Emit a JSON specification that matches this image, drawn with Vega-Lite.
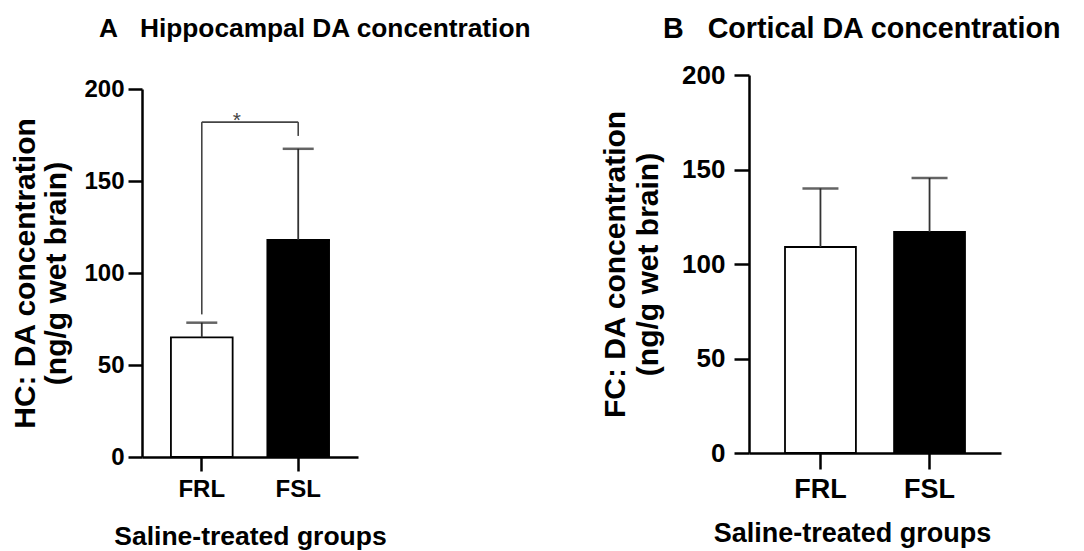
{
  "$schema": "https://vega.github.io/schema/vega-lite/v6.json",
  "background": "white",
  "padding": {"left": 10, "top": 15, "right": 0, "bottom": 0},
  "spacing": 68,
  "datasets": {
    "hc": [
      {"group": "FRL", "mean": 65, "upper": 73},
      {"group": "FSL", "mean": 118, "upper": 167.5}
    ],
    "fc": [
      {"group": "FRL", "mean": 109, "upper": 140},
      {"group": "FSL", "mean": 117, "upper": 145.5}
    ],
    "bracket_v": [
      {"group": "FRL", "y1": 77.5, "y2": 182},
      {"group": "FSL", "y1": 174.5, "y2": 182}
    ],
    "bracket_h": [
      {"from": "FRL", "to": "FSL", "y": 182, "label": "*"}
    ],
    "blank": [{}]
  },
  "config": {
    "view": {"stroke": null},
    "font": "Liberation Sans",
    "axis": {
      "grid": false,
      "domainColor": "black",
      "domainWidth": 2.5,
      "tickColor": "black",
      "tickWidth": 2.5,
      "labelColor": "black",
      "labelFont": "Liberation Sans",
      "labelFontWeight": "bold",
      "titleColor": "black",
      "titleFont": "Liberation Sans",
      "titleFontWeight": "bold"
    },
    "title": {"color": "black", "font": "Liberation Sans", "fontWeight": "bold", "anchor": "start", "frame": "group"}
  },
  "hconcat": [
    {
      "spacing": 1,
      "vconcat": [
        {
          "width": 216,
          "height": 1,
          "title": {"text": "A\u00a0\u00a0\u00a0Hippocampal DA concentration", "fontSize": 26.3, "dx": -43, "offset": 32},
          "data": {"name": "blank"},
          "mark": {"type": "rule", "opacity": 0},
          "encoding": {}
        },
        {
          "width": 216,
          "height": 368,
          "layer": [
            {
              "data": {"name": "hc"},
              "mark": {"type": "bar", "stroke": "black", "strokeWidth": 1.8},
              "encoding": {
                "x": {
                  "field": "group", "type": "nominal", "sort": ["FRL", "FSL"], "title": "Saline-treated groups",
                  "scale": {"domain": ["FRL", "FSL"], "paddingInner": 0.36, "paddingOuter": 0.3},
                  "axis": {"labelAngle": 0, "labelFontSize": 24, "tickSize": 14, "labelPadding": 6, "titleFontSize": 26.5, "titlePadding": 22}
                },
                "y": {
                  "field": "mean", "type": "quantitative", "title": ["HC: DA concentration", "(ng/g wet brain)"],
                  "scale": {"domain": [0, 200], "nice": false},
                  "axis": {"values": [0, 50, 100, 150, 200], "labelFontSize": 24, "tickSize": 14, "labelPadding": 4, "titleFontSize": 30, "titleLineHeight": 31, "titlePadding": 12}
                },
                "fill": {"field": "group", "type": "nominal", "scale": {"domain": ["FRL", "FSL"], "range": ["white", "black"]}, "legend": null}
              }
            },
            {
              "data": {"name": "hc"},
              "mark": {"type": "rule", "color": "#333333", "strokeWidth": 1.8},
              "encoding": {
                "x": {"field": "group", "type": "nominal", "title": "Saline-treated groups"},
                "y": {"field": "mean", "type": "quantitative", "title": ["HC: DA concentration", "(ng/g wet brain)"]},
                "y2": {"field": "upper"}
              }
            },
            {
              "data": {"name": "hc"},
              "mark": {"type": "tick", "orient": "horizontal", "color": "#222222", "size": 31, "thickness": 2.5},
              "encoding": {
                "x": {"field": "group", "type": "nominal", "title": "Saline-treated groups"},
                "y": {"field": "upper", "type": "quantitative", "title": ["HC: DA concentration", "(ng/g wet brain)"]}
              }
            },
            {
              "data": {"name": "bracket_v"},
              "mark": {"type": "rule", "color": "#444444", "strokeWidth": 1.6},
              "encoding": {
                "x": {"field": "group", "type": "nominal", "title": "Saline-treated groups"},
                "y": {"field": "y1", "type": "quantitative", "title": ["HC: DA concentration", "(ng/g wet brain)"]},
                "y2": {"field": "y2"}
              }
            },
            {
              "data": {"name": "bracket_h"},
              "mark": {"type": "rule", "color": "#444444", "strokeWidth": 1.6},
              "encoding": {
                "x": {"field": "from", "type": "nominal", "title": "Saline-treated groups"},
                "x2": {"field": "to"},
                "y": {"field": "y", "type": "quantitative", "title": ["HC: DA concentration", "(ng/g wet brain)"]}
              }
            },
            {
              "data": {"name": "bracket_h"},
              "mark": {"type": "text", "color": "#444444", "fontSize": 21, "dx": 35, "dy": 5, "baseline": "alphabetic"},
              "encoding": {
                "x": {"field": "from", "type": "nominal", "title": "Saline-treated groups"},
                "y": {"field": "y", "type": "quantitative", "title": ["HC: DA concentration", "(ng/g wet brain)"]},
                "text": {"field": "label"}
              }
            }
          ]
        }
      ]
    },
    {
      "width": 252,
      "height": 378,
      "title": {"text": "B\u00a0\u00a0\u00a0Cortical DA concentration", "fontSize": 28.7, "dx": -86, "offset": 18},
      "layer": [
        {
          "data": {"name": "fc"},
          "mark": {"type": "bar", "stroke": "black", "strokeWidth": 1.8},
          "encoding": {
            "x": {
              "field": "group", "type": "nominal", "sort": ["FRL", "FSL"], "title": "Saline-treated groups",
              "scale": {"domain": ["FRL", "FSL"], "paddingInner": 0.35, "paddingOuter": 0.33},
              "axis": {"labelAngle": 0, "labelFontSize": 27, "tickSize": 16, "labelPadding": 7, "titleFontSize": 27, "titlePadding": 18, "titleX": 103}
            },
            "y": {
              "field": "mean", "type": "quantitative", "title": ["FC: DA concentration", "(ng/g wet brain)"],
              "scale": {"domain": [0, 200], "nice": false},
              "axis": {"values": [0, 50, 100, 150, 200], "labelFontSize": 26, "tickSize": 15, "labelPadding": 9, "titleFontSize": 30, "titleLineHeight": 33, "titlePadding": 18}
            },
            "fill": {"field": "group", "type": "nominal", "scale": {"domain": ["FRL", "FSL"], "range": ["white", "black"]}, "legend": null}
          }
        },
        {
          "data": {"name": "fc"},
          "mark": {"type": "rule", "color": "#333333", "strokeWidth": 1.8},
          "encoding": {
            "x": {"field": "group", "type": "nominal", "title": "Saline-treated groups"},
            "y": {"field": "mean", "type": "quantitative", "title": ["FC: DA concentration", "(ng/g wet brain)"]},
            "y2": {"field": "upper"}
          }
        },
        {
          "data": {"name": "fc"},
          "mark": {"type": "tick", "orient": "horizontal", "color": "#222222", "size": 36, "thickness": 2.5},
          "encoding": {
            "x": {"field": "group", "type": "nominal", "title": "Saline-treated groups"},
            "y": {"field": "upper", "type": "quantitative", "title": ["FC: DA concentration", "(ng/g wet brain)"]}
          }
        }
      ]
    }
  ]
}
